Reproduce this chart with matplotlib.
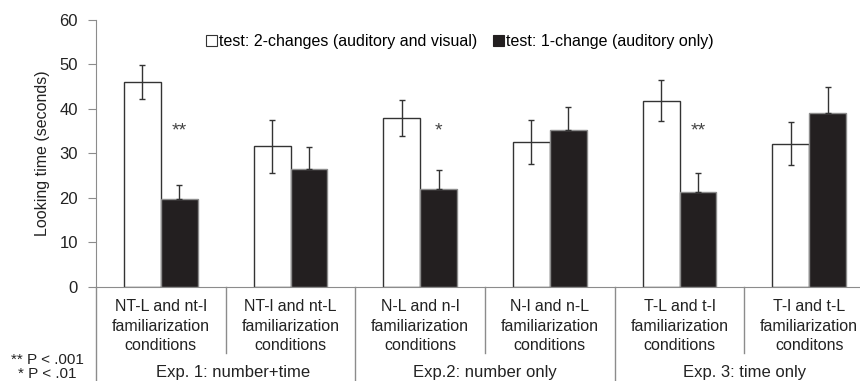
import numpy as np
import matplotlib.pyplot as plt
from matplotlib.patches import Patch
from matplotlib.transforms import blended_transform_factory

plt.rcParams['font.family'] = ['Liberation Sans', 'DejaVu Sans']

categories = ['NT-L and nt-l\nfamiliarization\nconditions',
              'NT-l and nt-L\nfamiliarization\nconditions',
              'N-L and n-l\nfamiliarization\nconditions',
              'N-l and n-L\nfamiliarization\nconditions',
              'T-L and t-l\nfamiliarization\nconditions',
              'T-l and t-L\nfamiliarization\nconditons']
experiments = ['Exp. 1: number+time', 'Exp.2: number only', 'Exp. 3: time only']
two_change = [46.0, 31.6, 37.9, 32.5, 41.8, 32.2]
two_change_err = [3.8, 5.9, 4.0, 5.0, 4.6, 4.8]
one_change = [19.8, 26.4, 22.1, 35.3, 21.3, 39.1]
one_change_err = [3.0, 5.0, 4.1, 5.1, 4.4, 5.8]
stars = ['**', '', '*', '', '**', '']

gray = '#8c8c8c'
dark = '#231f20'
txt = '#222222'

fig = plt.figure(figsize=(8.6, 3.81), dpi=100)
ax = fig.add_axes([96 / 860, 94 / 381, 778 / 860, 267.3 / 381])

x = np.arange(len(categories)) + 0.5
w = 0.285
ax.bar(x - w / 2, two_change, w, color='white', edgecolor='#333333', linewidth=1.0, zorder=2)
ax.bar(x + w / 2, one_change, w, color=dark, edgecolor=gray, linewidth=1.0, zorder=2)
ax.errorbar(x - w / 2, two_change, yerr=two_change_err, fmt='none', ecolor='#333333',
            elinewidth=1.0, capsize=2.5, capthick=1.0, zorder=3)
ax.errorbar(x + w / 2, one_change, yerr=[[0] * 6, one_change_err], fmt='none', ecolor='#333333',
            elinewidth=1.0, capsize=2.5, capthick=1.0, zorder=3)

for xi, s in zip(x, stars):
    if s:
        ax.text(xi + w / 2, 35.0, s, ha='center', va='center', fontsize=14, color='#444444')

ax.set_xlim(0, 6)
ax.set_ylim(0, 60)
ax.set_yticks(range(0, 61, 10))
ax.tick_params(axis='y', length=6, color=gray, labelsize=12, pad=7, labelcolor=txt)
ax.set_xticks([])
for s in ['top', 'right']:
    ax.spines[s].set_visible(False)
ax.spines['left'].set_color(gray)
ax.spines['bottom'].set_color(gray)
ax.set_ylabel('Looking time (seconds)', fontsize=11.5, color=txt, labelpad=7)

# category separators below the axis
tr = blended_transform_factory(ax.transData, ax.transAxes)
for b in range(7):
    bottom = -0.36 if b % 2 == 0 else -0.247
    ax.plot([b, b], [0, bottom], color=gray, linewidth=1.0, transform=tr, clip_on=False)

for xi, lab in zip(x, categories):
    ax.text(xi, -0.146, lab, transform=tr, ha='center', va='center', fontsize=11.5,
            color=txt, linespacing=1.4)
exp_x = [1.06, 3, 5]
for xe, lab in zip(exp_x, experiments):
    ax.text(xe, -0.318, lab, transform=tr, ha='center', va='center', fontsize=12, color=txt)

fig.text(47 / 860, 1 - 367 / 381, '** P < .001\n* P < .01', ha='center', va='center',
         multialignment='center', fontsize=11, color=txt, linespacing=0.95)

handles = [Patch(facecolor='white', edgecolor='#333333', linewidth=0.8),
           Patch(facecolor=dark, edgecolor=dark, linewidth=0.8)]
ax.legend(handles, ['test: 2-changes (auditory and visual)', 'test: 1-change (auditory only)'],
          loc='center', bbox_to_anchor=(0.468, 0.917), ncol=2, frameon=False, fontsize=11.5,
          handlelength=0.65, handleheight=0.65, handletextpad=0.15, columnspacing=1.0)

fig.savefig('out.png', dpi=100)
